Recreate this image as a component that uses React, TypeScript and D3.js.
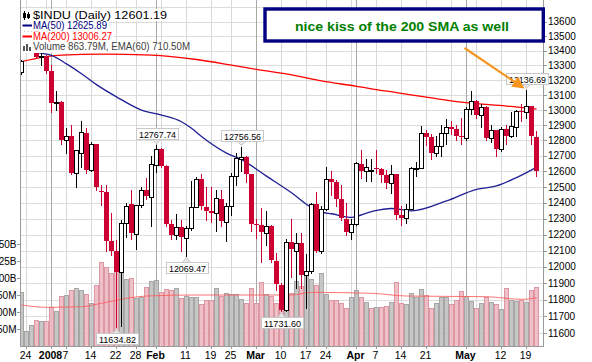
import React from 'react';
import * as d3 from 'd3';

// ---------- DATA ----------
const dates = [
  '2007-12-21', '2007-12-24', '2007-12-26', '2007-12-27', '2007-12-28', '2007-12-31',
  '2008-01-02', '2008-01-03', '2008-01-04', '2008-01-07', '2008-01-08', '2008-01-09', '2008-01-10', '2008-01-11',
  '2008-01-14', '2008-01-15', '2008-01-16', '2008-01-17', '2008-01-18', '2008-01-22', '2008-01-23', '2008-01-24',
  '2008-01-25', '2008-01-28', '2008-01-29', '2008-01-30', '2008-01-31',
  '2008-02-01', '2008-02-04', '2008-02-05', '2008-02-06', '2008-02-07', '2008-02-08', '2008-02-11', '2008-02-12',
  '2008-02-13', '2008-02-14', '2008-02-15', '2008-02-19', '2008-02-20', '2008-02-21', '2008-02-22', '2008-02-25',
  '2008-02-26', '2008-02-27', '2008-02-28', '2008-02-29',
  '2008-03-03', '2008-03-04', '2008-03-05', '2008-03-06', '2008-03-07', '2008-03-10', '2008-03-11', '2008-03-12',
  '2008-03-13', '2008-03-14', '2008-03-17', '2008-03-18', '2008-03-19', '2008-03-20', '2008-03-24', '2008-03-25',
  '2008-03-26', '2008-03-27', '2008-03-28', '2008-03-31',
  '2008-04-01', '2008-04-02', '2008-04-03', '2008-04-04', '2008-04-07', '2008-04-08', '2008-04-09', '2008-04-10',
  '2008-04-11', '2008-04-14', '2008-04-15', '2008-04-16', '2008-04-17', '2008-04-18', '2008-04-21', '2008-04-22',
  '2008-04-23', '2008-04-24', '2008-04-25', '2008-04-28', '2008-04-29', '2008-04-30',
  '2008-05-01', '2008-05-02', '2008-05-05', '2008-05-06', '2008-05-07', '2008-05-08', '2008-05-09', '2008-05-12',
  '2008-05-13', '2008-05-14', '2008-05-15', '2008-05-16', '2008-05-19', '2008-05-20', '2008-05-21',
];

const opens = [
  13255, 13450, 13550, 13550, 13359, 13366,
  13262, 13044, 13055, 12801, 12828, 12590, 12720, 12850, 12610, 12777, 12476, 12466, 12159, 12095, 11970, 12270, 12390, 12205, 12385, 12480, 12438,
  12638, 12743, 12635, 12266, 12195, 12245, 12180, 12240, 12375, 12552, 12370, 12350, 12335, 12425, 12280, 12380, 12570, 12680, 12690, 12580,
  12264, 12258, 12212, 12255, 12035, 11890, 11741, 12155, 12100, 12145, 11950, 11975, 12390, 12100, 12361, 12548, 12530, 12420, 12300, 12215,
  12265, 12650, 12605, 12600, 12620, 12612, 12577, 12527, 12580, 12325, 12305, 12362, 12618, 12622, 12848, 12825, 12720, 12763, 12849, 12891, 12872, 12832,
  12815, 13010, 13058, 12969, 13020, 12815, 12866, 12745, 12875, 12832, 12890, 12995, 12990, 13028, 12825,
];
const highs = [
  13340, 13560, 13590, 13555, 13408, 13370,
  13300, 13130, 13060, 12880, 12900, 12740, 12930, 12880, 12790, 12780, 12510, 12510, 12335, 12165, 12290, 12400, 12480, 12385, 12500, 12560, 12700,
  12767.74, 12750, 12640, 12290, 12330, 12290, 12250, 12540, 12565, 12580, 12500, 12500, 12480, 12480, 12400, 12590, 12720, 12756.56, 12700, 12585,
  12300, 12365, 12345, 12260, 12085, 11900, 12170, 12300, 12210, 12210, 12080, 12395, 12465, 12380, 12625, 12600, 12545, 12510, 12400, 12300,
  12660, 12735, 12680, 12680, 12735, 12620, 12610, 12640, 12585, 12380, 12390, 12625, 12660, 12895, 12870, 12840, 12830, 12900, 12940, 12930, 12900, 12950,
  13020, 13130, 13070, 13040, 13030, 12900, 12870, 12890, 12900, 12990, 13000, 13040, 13136.69, 13030, 12865,
];
const lows = [
  13245, 13450, 13480, 13355, 13300, 13250,
  12985, 13000, 12780, 12720, 12580, 12500, 12630, 12590, 12600, 12480, 12385, 12100, 12075, 11634.82, 11645, 12185, 12175, 12110, 12370, 12420, 12250,
  12598, 12625, 12255, 12170, 12170, 12100, 12069.47, 12230, 12370, 12360, 12290, 12280, 12220, 12250, 12160, 12320, 12510, 12600, 12530, 12220,
  12180, 12030, 12135, 12030, 11860, 11731.6, 11735, 11940, 11870, 11870, 11750, 11965, 12090, 12085, 12355, 12450, 12380, 12290, 12200, 12170,
  12260, 12560, 12540, 12540, 12590, 12530, 12490, 12460, 12300, 12260, 12270, 12360, 12570, 12620, 12770, 12680, 12700, 12700, 12780, 12840, 12800, 12780,
  12800, 12975, 12950, 12890, 12800, 12790, 12700, 12730, 12780, 12820, 12830, 12930, 12950, 12780, 12570,
];
const closes = [
  13330, 13549, 13551, 13359, 13365, 13265,
  13044, 13056, 12800, 12827, 12589, 12735, 12853, 12606, 12778, 12501, 12467, 12159, 12099, 11971, 12270, 12378, 12207, 12384, 12480, 12442, 12650,
  12743, 12635, 12265, 12200, 12247, 12182, 12240, 12373, 12552, 12376, 12348, 12337, 12427, 12284, 12381, 12570, 12684, 12694, 12582, 12266,
  12258, 12213, 12254, 12040, 11894, 11740, 12156, 12110, 12146, 11951, 11972, 12392, 12099, 12361, 12548, 12532, 12422, 12302, 12216, 12263,
  12654, 12605, 12626, 12609, 12612, 12577, 12527, 12581, 12325, 12302, 12362, 12619, 12620, 12849, 12825, 12721, 12763, 12849, 12891, 12872, 12831, 12820,
  13010, 13058, 12969, 13020, 12814, 12866, 12745, 12876, 12832, 12898, 12992, 12986, 13028, 12828, 12601.19,
];
// volume in millions
const volumes = [
  790, 220, 310, 380, 370, 370,
  570, 520, 735, 750, 830, 860, 825, 765, 630, 900, 1240, 1165, 1070, 1205, 1360, 980, 995, 700, 725, 875, 960,
  970, 790, 835, 825, 860, 700, 735, 716, 716, 613, 676, 676, 848, 735, 775, 765, 765, 686, 627, 858,
  627, 936, 760, 735, 627, 882, 882, 775, 961, 882, 1069, 980, 897, 1069, 765, 676, 676, 627, 554, 716,
  824, 716, 640, 554, 569, 578, 588, 642, 936, 627, 613, 775, 725, 833, 750, 564, 627, 725, 725, 613, 676, 809,
  735, 662, 554, 627, 725, 652, 613, 539, 848, 676, 662, 676, 642, 824, 864,
];

// moving averages (at given trading-day index)
const ma50Idx = [1, 2, 4, 6, 9, 12, 15, 19, 24, 28, 32, 34, 36, 41, 44, 49, 54, 58, 60, 62, 66, 70, 74, 78, 85, 91, 95, 99, 103];
const ma50Val = [13395, 13390, 13382, 13368, 13310, 13244, 13170, 13088, 13000, 12967, 12923, 12880, 12826, 12718, 12675, 12569, 12463, 12369, 12340, 12330, 12307, 12344, 12363, 12348, 12411, 12485, 12506, 12560, 12626];
const ma200Idx = [0, 4, 8, 16, 26, 35, 42, 47, 54, 60, 67, 70, 75, 82, 89, 97, 103];
const ma200Val = [13325, 13355, 13370, 13377, 13370, 13340, 13302, 13273, 13236, 13195, 13159, 13142, 13117, 13081, 13049, 13027, 13006];
const volEmaIdx = [0, 5, 12, 16, 21, 25, 35, 44, 54, 58, 70, 77, 93, 100, 103];
const volEmaVal = [603, 569, 578, 628, 701, 735, 750, 750, 750, 789, 775, 735, 725, 686, 710];

const priceTicks = [13600, 13500, 13400, 13300, 13200, 13100, 13000, 12900, 12800, 12700, 12600, 12500, 12400, 12300, 12200, 12100, 12000, 11900, 11800, 11700, 11600];
const priceGridExtra = [13700];
const volTicks = [250, 500, 750, 1000, 1250, 1500];
const volTickLabels = ['250M', '500M', '750M', '1.00B', '1.25B', '1.50B'];
const xTickDates = ['2007-12-24', '2008-01-02', '2008-01-07', '2008-01-14', '2008-01-22', '2008-01-28', '2008-02-01', '2008-02-11', '2008-02-19', '2008-02-25', '2008-03-03', '2008-03-10', '2008-03-17', '2008-03-24', '2008-04-01', '2008-04-07', '2008-04-14', '2008-04-21', '2008-05-01', '2008-05-12', '2008-05-19'];
const xTickLabels = ['24', '2008', '7', '14', '22', '28', 'Feb', '11', '19', '25', 'Mar', '10', '17', '24', 'Apr', '7', '14', '21', 'May', '12', '19'];

const calloutDates = ['2008-02-01', '2008-02-27', '2008-02-11', '2008-01-22', '2008-03-10', '2008-05-19'];
const calloutValues = [12767.74, 12756.56, 12069.47, 11634.82, 11731.6, 13136.69];

const legendTitle = '$INDU (Daily) 12601.19';
const legendMa50 = 'MA(50) 12625.89';
const legendMa200 = 'MA(200) 13006.27';
const legendVol = 'Volume 863.79M, EMA(60) 710.50M';
const noteText = 'nice kiss of the 200 SMA as well';

// ---------- STYLE ----------
const FONT = '"Liberation Sans", Arial, sans-serif';
const RED = '#cc0033';

export default function App() {
  const N = dates.length;
  const parse = d3.timeParse('%Y-%m-%d');
  const days = dates.map((d) => parse(d) as Date);

  const L = 20, R = 543, B = 346;
  const x = d3.scaleLinear().domain([0, N - 1]).range([21.5, 21.5 + 5 * (N - 1)]);
  const y = d3.scaleLog().domain([11600, 13600]).range([333.3, 21.7]);
  const yv = d3.scaleLinear().domain([0, 1500]).range([B, 244]);
  const snap = (v: number) => Math.round(v) + 0.5;

  const weekLines: number[] = [];
  const monthLines: number[] = [];
  for (let i = 1; i < N; i++) {
    if (days[i].getMonth() !== days[i - 1].getMonth()) monthLines.push(i);
    else if (+d3.timeMonday.floor(days[i]) !== +d3.timeMonday.floor(days[i - 1])) weekLines.push(i);
  }

  const priceLine = d3.line<number>().x((_, j) => 0).y(() => 0);
  const mkLine = (idx: number[], vals: number[], ys: (v: number) => number) =>
    d3.line<number>()
      .x((_, j) => x(idx[j]))
      .y((v) => ys(v))
      .curve(d3.curveMonotoneX)(vals) || '';

  const ma50Path = mkLine(ma50Idx, ma50Val, (v) => y(v));
  const ma200Path = mkLine(ma200Idx, ma200Val, (v) => y(v));
  const volEmaPath = mkLine(volEmaIdx, volEmaVal, (v) => yv(v));
  void priceLine;

  // arrow geometry
  const ax0 = 464.5, ay0 = 48, ax1 = 524.5, ay1 = 88.5;
  const ang = Math.atan2(ay1 - ay0, ax1 - ax0);
  const hl = 12, hw = 6;
  const bx = ax1 - hl * Math.cos(ang), by = ay1 - hl * Math.sin(ang);
  const head = [
    [ax1, ay1],
    [bx + hw * Math.sin(ang), by - hw * Math.cos(ang)],
    [bx - hw * Math.sin(ang), by + hw * Math.cos(ang)],
  ].map((p) => p.join(',')).join(' ');

  return (
    <svg width={592} height={362} style={{ position: 'absolute', left: 0, top: 0, display: 'block', background: '#fff' }}
      fontFamily={FONT}>
      <defs>
        <clipPath id="plot">
          <rect x={L + 1} y={0} width={R - L - 1} height={B} />
        </clipPath>
      </defs>
      <rect x={0} y={0} width={592} height={362} fill="#fff" />

      {/* grid */}
      <g shapeRendering="crispEdges">
        {[...priceTicks, ...priceGridExtra].map((p) => (
          <line key={'h' + p} x1={L} x2={R} y1={snap(y(p))} y2={snap(y(p))} stroke="#dcdcdc" />
        ))}
        {weekLines.map((i) => (
          <line key={'w' + i} x1={x(i)} x2={x(i)} y1={0} y2={B} stroke="#d8d8d8" />
        ))}
        {monthLines.map((i) => (
          <line key={'m' + i} x1={x(i)} x2={x(i)} y1={0} y2={B} stroke="#a8a8a8" />
        ))}
      </g>

      <g clipPath="url(#plot)">
        {/* volume */}
        <g shapeRendering="crispEdges">
          {volumes.map((v, i) => {
            const down = i === 0 ? closes[i] < opens[i] : closes[i] < closes[i - 1];
            const top = Math.round(yv(v));
            return (
              <rect key={'v' + i} x={x(i) - 2} y={top + 0.5} width={4} height={B - top}
                fill={down ? '#ecb5be' : '#bdbdbd'} fillOpacity={0.85}
                stroke={down ? '#dc97a3' : '#a6a6a6'} strokeWidth={1} />
            );
          })}
        </g>
        <path d={volEmaPath} fill="none" stroke="#ff5a5a" strokeWidth={1} strokeOpacity={0.85} />

        {/* MAs */}
        <path d={ma200Path} fill="none" stroke="#ff0000" strokeWidth={1.3} />
        <path d={ma50Path} fill="none" stroke="#1f1f96" strokeWidth={1.3} />

        {/* candles */}
        <g shapeRendering="crispEdges">
          {dates.map((_, i) => {
            const o = opens[i], c = closes[i], h = highs[i], l = lows[i];
            const cx = x(i);
            const yt = Math.round(y(Math.max(o, c)));
            const yb = Math.round(y(Math.min(o, c)));
            const yh = Math.round(y(h));
            const yl = Math.round(y(l));
            if (c >= o) {
              return (
                <g key={'c' + i}>
                  <line x1={cx} x2={cx} y1={yh} y2={yl + 1} stroke="#000" />
                  <rect x={cx - 2} y={yt + 0.5} width={4} height={Math.max(yb - yt, 1)} fill="#fff" stroke="#000" />
                </g>
              );
            }
            return (
              <g key={'c' + i}>
                <line x1={cx} x2={cx} y1={yh} y2={yl + 1} stroke={RED} />
                <rect x={cx - 2.5} y={yt} width={5} height={Math.max(yb - yt, 1)} fill={RED} />
              </g>
            );
          })}
        </g>
      </g>

      {/* frame */}
      <g shapeRendering="crispEdges" stroke="#999">
        <line x1={L + 0.5} x2={L + 0.5} y1={0} y2={B + 0.5} />
        <line x1={R + 0.5} x2={R + 0.5} y1={0} y2={B + 0.5} />
        <line x1={L} x2={R + 1} y1={B + 0.5} y2={B + 0.5} />
      </g>

      {/* right price axis */}
      <g fontSize={10} fill="#000">
        {priceTicks.map((p) => (
          <g key={'pt' + p}>
            <line x1={R} x2={R + 4} y1={snap(y(p))} y2={snap(y(p))} stroke="#999" shapeRendering="crispEdges" />
            <text x={R + 5} y={y(p) + 3.6}>{p}</text>
          </g>
        ))}
      </g>

      {/* left volume axis */}
      <g fontSize={10} fill="#000">
        {volTicks.map((v, j) => (
          <g key={'vt' + v}>
            <line x1={L - 3} x2={L} y1={snap(yv(v))} y2={snap(yv(v))} stroke="#999" shapeRendering="crispEdges" />
            <text x={L - 3.5} y={yv(v) + 3.6} textAnchor="end">{volTickLabels[j]}</text>
          </g>
        ))}
      </g>

      {/* bottom axis */}
      <g fontSize={10.5} fill="#000">
        {xTickDates.map((d, j) => {
          const i = dates.indexOf(d);
          const bold = !/^\d{1,2}$/.test(xTickLabels[j]);
          return (
            <g key={'xt' + j}>
              <line x1={x(i)} x2={x(i)} y1={B} y2={B + 3} stroke="#999" shapeRendering="crispEdges" />
              <text x={x(i) - 1} y={359} textAnchor="middle" fontWeight={bold ? 'bold' : 'normal'}>{xTickLabels[j]}</text>
            </g>
          );
        })}
      </g>

      {/* callouts */}
      <g fontSize={9.5}>
        {calloutDates.map((d, j) => {
          const i = dates.indexOf(d);
          const v = calloutValues[j];
          const cx = x(i);
          const above = Math.abs(highs[i] - v) < 0.01;
          const yy = y(v);
          const bw = 42, bh = 11;
          const top = above ? Math.round(yy - 6 - bh) + 0.5 : Math.round(yy + 6) + 0.5;
          const edge = above ? top + bh : top;
          const tip = above ? yy - 1.5 : yy + 1.5;
          const bxl = Math.round(cx - bw / 2) + 0.5;
          return (
            <g key={'co' + j}>
              <polygon points={`${cx - 4},${edge} ${cx + 4},${edge} ${cx},${tip}`} fill="#e6e6e6" stroke="#c8c8c8" />
              <rect x={bxl} y={top} width={bw} height={bh} fill="#fff" stroke="#c8c8c8" />
              <text x={bxl + 2.5} y={top + 9} textLength={37} lengthAdjust="spacingAndGlyphs" fill="#000">{v.toFixed(2)}</text>
            </g>
          );
        })}
      </g>

      {/* legend */}
      <g>
        <rect x={21} y={9} width={148} height={12} fill="#fff" />
        <rect x={21} y={21} width={88} height={10.5} fill="#fff" />
        <rect x={21} y={31.5} width={93} height={10.5} fill="#fff" />
        <rect x={21} y={42} width={171} height={11} fill="#fff" />
        {/* candle icon */}
        <g shapeRendering="crispEdges">
          <line x1={24.5} x2={24.5} y1={11} y2={20} stroke="#000" />
          <rect x={23} y={13} width={3} height={5} fill="#000" />
          <line x1={28.5} x2={28.5} y1={12} y2={19} stroke="#000" />
          <rect x={27} y={14} width={3} height={4} fill="#000" />
        </g>
        <text x={33} y={19} fontSize={11} textLength={134} lengthAdjust="spacingAndGlyphs" fill="#000">{legendTitle}</text>
        <line x1={22.5} x2={32} y1={25.5} y2={25.5} stroke="#000080" strokeWidth={2} />
        <text x={33} y={28.5} fontSize={10} textLength={74} lengthAdjust="spacingAndGlyphs" fill="#000080">{legendMa50}</text>
        <line x1={22.5} x2={32} y1={36.5} y2={36.5} stroke="#ff0000" strokeWidth={2} />
        <text x={33} y={39.5} fontSize={10} textLength={79} lengthAdjust="spacingAndGlyphs" fill="#ff0000">{legendMa200}</text>
        <g shapeRendering="crispEdges" fill="#555">
          <rect x={23} y={46} width={2} height={5} />
          <rect x={26} y={44} width={2} height={7} />
          <rect x={29} y={47} width={2} height={4} />
        </g>
        <text x={33} y={50} fontSize={10} textLength={157} lengthAdjust="spacingAndGlyphs" fill="#404040">{legendVol}</text>
      </g>

      {/* annotation */}
      <rect x={265} y={9} width={278.3} height={32} fill="#fff" stroke="#000080" strokeWidth={3.4} />
      <text x={295} y={30.5} fontSize={13} fontWeight="bold" fill="#008000" textLength={214} lengthAdjust="spacingAndGlyphs">{noteText}</text>

      {/* arrow */}
      <line x1={ax0} y1={ay0} x2={bx} y2={by} stroke="#f7941d" strokeWidth={2.2} />
      <polygon points={head} fill="#f7941d" />
    </svg>
  );
}
